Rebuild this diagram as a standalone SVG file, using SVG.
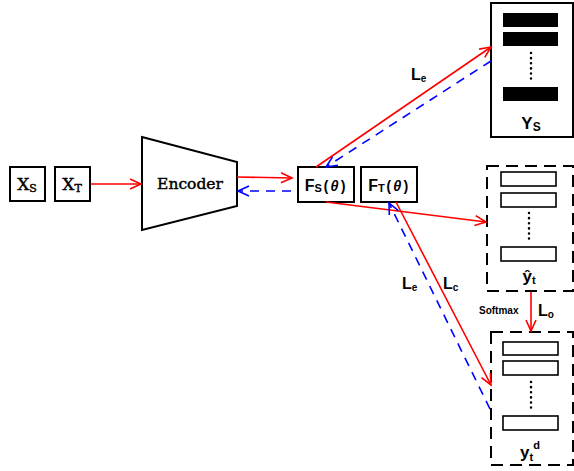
<svg xmlns="http://www.w3.org/2000/svg" width="574" height="471" viewBox="0 0 574 471">
  <style>
    .box { fill: #fff; stroke: #000; stroke-width: 2; }
    .dbox { fill: #fff; stroke: #000; stroke-width: 2; stroke-dasharray: 12 7; }
    .bar { fill: #000; }
    .obar { fill: #fff; stroke: #000; stroke-width: 1.6; }
    .dots { stroke: #000; stroke-width: 2.5; stroke-dasharray: 0.1 5; stroke-linecap: round; }
    .slab { font-family: "DejaVu Serif", "Liberation Serif", serif; fill: #000; stroke: #000; stroke-width: 0.45; }
    .mono { font-family: "Liberation Mono", "DejaVu Sans Mono", monospace; font-weight: bold; fill: #000; }
    .sans { font-family: "Liberation Sans", Arial, sans-serif; font-weight: bold; fill: #000; }
    .red { stroke: #ff0000; stroke-width: 1.6; fill: none; marker-end: url(#arrRed); }
    .blue { stroke: #0000ff; stroke-width: 1.6; fill: none; stroke-dasharray: 9 7; marker-end: url(#arrBlue); }
  </style>
  <defs>
    <marker id="arrRed" markerUnits="userSpaceOnUse" markerWidth="14" markerHeight="14" refX="12" refY="6" orient="auto">
      <path d="M1,1 L12,6 L1,11" fill="none" stroke="#ff0000" stroke-width="1.6"/>
    </marker>
    <marker id="arrBlue" markerUnits="userSpaceOnUse" markerWidth="14" markerHeight="14" refX="12" refY="6" orient="auto">
      <path d="M1,1 L12,6 L1,11" fill="none" stroke="#0000ff" stroke-width="1.6"/>
    </marker>
  </defs>

  <rect width="574" height="471" fill="#fff"/>

  <!-- inputs -->
  <g id="xs">
    <rect class="box" x="10" y="167" width="35" height="34"/>
    <text class="slab" x="27" y="190" text-anchor="middle" font-size="17">X<tspan font-size="11" dy="2">S</tspan></text>
  </g>
  <g id="xt">
    <rect class="box" x="55" y="167" width="35" height="34"/>
    <text class="slab" x="72" y="190" text-anchor="middle" font-size="17">X<tspan font-size="11" dy="2">T</tspan></text>
  </g>

  <!-- encoder -->
  <g id="encoder">
    <polygon class="box" points="142,137 237,162 237,206 142,230"/>
    <text class="slab" x="190" y="189" text-anchor="middle" font-size="15.5">Encoder</text>
  </g>

  <!-- feature extractors -->
  <g id="fs">
    <rect class="box" x="298" y="167" width="56" height="35"/>
    <text x="326" y="191" text-anchor="middle"><tspan class="sans" font-size="16">F</tspan><tspan class="sans" font-size="11" dy="1">S</tspan><tspan class="mono" font-size="14" dy="-1">(<tspan font-style="italic">θ</tspan>)</tspan></text>
  </g>
  <g id="ft">
    <rect class="box" x="361" y="167" width="56" height="35"/>
    <text x="389" y="191" text-anchor="middle"><tspan class="sans" font-size="16">F</tspan><tspan class="sans" font-size="11" dy="1">T</tspan><tspan class="mono" font-size="14" dy="-1">(<tspan font-style="italic">θ</tspan>)</tspan></text>
  </g>

  <!-- source labels -->
  <g id="ys">
    <rect class="box" x="491" y="3" width="82" height="134"/>
    <rect class="bar" x="503" y="13" width="55" height="14"/>
    <rect class="bar" x="503" y="32" width="55" height="14"/>
    <line class="dots" x1="531" y1="53" x2="531" y2="82"/>
    <rect class="bar" x="503" y="87" width="55" height="14"/>
    <text class="sans" x="531" y="129" text-anchor="middle" font-size="17">Y<tspan font-size="12" dy="2">S</tspan></text>
  </g>

  <!-- target predictions -->
  <g id="yhat">
    <rect class="dbox" x="487" y="166" width="86" height="125"/>
    <rect class="obar" x="501" y="172" width="55" height="14"/>
    <rect class="obar" x="501" y="193" width="55" height="14"/>
    <line class="dots" x1="529" y1="213" x2="529" y2="242"/>
    <rect class="obar" x="501" y="247" width="55" height="14"/>
    <text class="sans" x="529" y="282" text-anchor="middle" font-size="17">ŷ<tspan font-size="11" dy="2">t</tspan></text>
  </g>

  <!-- target distribution -->
  <g id="ytd">
    <rect class="dbox" x="491" y="332" width="82" height="133"/>
    <rect class="obar" x="503" y="342" width="55" height="13"/>
    <rect class="obar" x="503" y="361" width="55" height="14"/>
    <line class="dots" x1="531" y1="382" x2="531" y2="410"/>
    <rect class="obar" x="503" y="416" width="55" height="14"/>
    <text class="sans" x="530" y="458" text-anchor="middle" font-size="17">y<tspan font-size="11" dy="3">t</tspan><tspan font-size="11" dy="-12">d</tspan></text>
  </g>

  <!-- connectors -->
  <g id="connectors">
    <line class="red" x1="91" y1="184" x2="141" y2="184"/>
    <line class="red" x1="237" y1="177" x2="292" y2="178"/>
    <line class="blue" x1="291" y1="191" x2="238" y2="191"/>
    <line class="red" x1="316" y1="167" x2="491" y2="47"/>
    <line class="blue" x1="491" y1="61" x2="326" y2="167"/>
    <line class="red" x1="326" y1="202" x2="486" y2="222"/>
    <line class="red" x1="396" y1="202" x2="491" y2="385"/>
    <line class="blue" x1="490" y1="409" x2="389" y2="203"/>
    <line class="red" x1="531" y1="292" x2="531" y2="331"/>
  </g>

  <!-- loss labels -->
  <g id="labels">
    <text class="sans" x="411" y="80" font-size="16">L<tspan font-size="10" dy="2">e</tspan></text>
    <text class="sans" x="402" y="289" font-size="16">L<tspan font-size="10" dy="2">e</tspan></text>
    <text class="sans" x="443" y="289" font-size="16">L<tspan font-size="10" dy="2">c</tspan></text>
    <text class="sans" x="538" y="316" font-size="16">L<tspan font-size="10" dy="2">o</tspan></text>
    <text class="sans" x="479" y="314" font-size="10">Softmax</text>
  </g>
</svg>
